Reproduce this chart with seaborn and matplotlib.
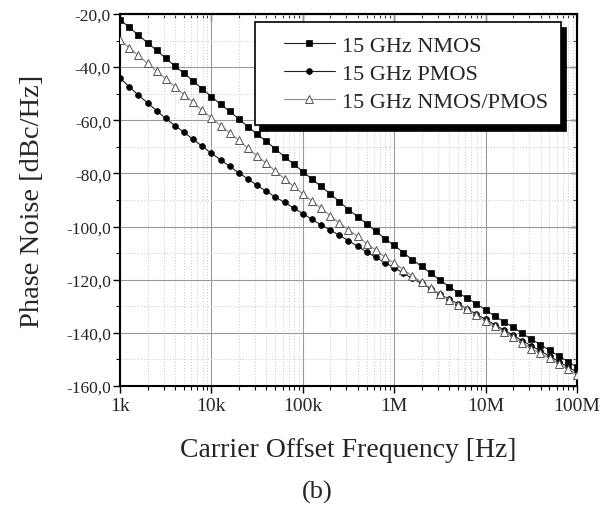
import numpy as np
import pandas as pd
import matplotlib
matplotlib.use("Agg")
import matplotlib.pyplot as plt
import seaborn as sns
from matplotlib.lines import Line2D
from matplotlib.legend_handler import HandlerLine2D
from matplotlib.ticker import FixedLocator, MultipleLocator, FuncFormatter, NullFormatter

# ---------------- data ----------------
freq_hz = [
    1.00e3, 1.26e3, 1.58e3, 2.00e3, 2.51e3, 3.16e3, 3.98e3, 5.01e3, 6.31e3, 7.94e3,
    1.00e4, 1.26e4, 1.58e4, 2.00e4, 2.51e4, 3.16e4, 3.98e4, 5.01e4, 6.31e4, 7.94e4,
    1.00e5, 1.26e5, 1.58e5, 2.00e5, 2.51e5, 3.16e5, 3.98e5, 5.01e5, 6.31e5, 7.94e5,
    1.00e6, 1.26e6, 1.58e6, 2.00e6, 2.51e6, 3.16e6, 3.98e6, 5.01e6, 6.31e6, 7.94e6,
    1.00e7, 1.26e7, 1.58e7, 2.00e7, 2.51e7, 3.16e7, 3.98e7, 5.01e7, 6.31e7, 7.94e7,
    1.00e8,
]
nmos = [
    -22.1, -25.0, -27.9, -30.8, -33.7, -36.6, -39.6, -42.3, -45.2, -48.2,
    -51.1, -54.0, -56.6, -59.5, -62.4, -65.2, -67.9, -70.8, -73.7, -76.5,
    -79.3, -82.1, -84.9, -87.7, -90.6, -93.6, -96.3, -99.0, -101.8, -104.6,
    -107.1, -109.8, -112.5, -115.0, -117.6, -120.1, -122.6, -124.9, -127.0, -129.1,
    -131.4, -133.7, -135.8, -137.9, -140.2, -142.4, -144.4, -146.6, -148.7, -150.8,
    -153.0,
]
pmos = [
    -44.2, -47.3, -50.5, -53.4, -56.4, -59.3, -62.0, -64.5, -67.2, -69.8,
    -72.4, -74.9, -77.3, -79.8, -82.1, -84.5, -86.7, -88.9, -90.9, -93.0,
    -95.1, -97.3, -99.3, -101.3, -103.3, -105.3, -107.4, -109.6, -111.6, -113.6,
    -115.5, -117.5, -119.5, -121.4, -123.4, -125.4, -127.3, -129.1, -131.0, -133.0,
    -134.9, -136.9, -138.9, -140.9, -142.9, -144.9, -146.8, -148.8, -150.8, -152.8,
    -154.8,
]
nmos_pmos = [
    -29.8, -32.7, -35.6, -38.6, -41.5, -44.5, -47.3, -50.4, -53.2, -56.3,
    -59.1, -62.0, -64.7, -67.5, -70.6, -73.4, -76.2, -79.1, -82.0, -84.9,
    -87.7, -90.4, -93.1, -95.9, -98.7, -101.2, -103.7, -106.4, -108.9, -111.5,
    -113.8, -116.2, -118.6, -120.9, -123.2, -125.4, -127.5, -129.4, -131.1, -133.4,
    -135.5, -137.4, -139.5, -141.7, -143.7, -145.9, -147.7, -149.6, -151.6, -153.7,
    -155.7,
]
series_labels = ["15 GHz NMOS", "15 GHz PMOS", "15 GHz NMOS/PMOS"]
x_ticks = [1e3, 1e4, 1e5, 1e6, 1e7, 1e8]
x_tick_labels = ["1k", "10k", "100k", "1M", "10M", "100M"]
y_ticks = [-20, -40, -60, -80, -100, -120, -140, -160]
x_label = "Carrier Offset Frequency [Hz]"
y_label = "Phase Noise [dBc/Hz]"
caption = "(b)"

# ---------------- style ----------------
sns.set_style("ticks")
plt.rcParams["font.family"] = ["Liberation Serif", "DejaVu Serif"]

fig = plt.figure(figsize=(6.15, 5.06), dpi=100)
ax = fig.add_axes([0.1951, 0.2352, 0.7431, 0.7352])

df = pd.DataFrame({"freq": freq_hz, "nmos": nmos, "pmos": pmos, "np": nmos_pmos})

sns.lineplot(data=df, x="freq", y="nmos", ax=ax, color="#222222", lw=0.8,
             marker="s", markersize=3.8, markerfacecolor="black",
             markeredgecolor="black", markeredgewidth=0.5, label=series_labels[0],
             zorder=3)
sns.lineplot(data=df, x="freq", y="pmos", ax=ax, color="#222222", lw=0.8,
             marker="o", markersize=4.2, markerfacecolor="black",
             markeredgecolor="black", markeredgewidth=0.5, label=series_labels[1],
             zorder=3)
sns.lineplot(data=df, x="freq", y="np", ax=ax, color="#888888", lw=0.8,
             marker="^", markersize=5.5, markerfacecolor="white",
             markeredgecolor="#555555", markeredgewidth=0.7, label=series_labels[2],
             zorder=4)

ax.set_xscale("log")
ax.set_xlim(1e3, 1e8)
ax.set_ylim(-160, -20)

ax.set_xticks(x_ticks)
ax.set_xticklabels(x_tick_labels)
minor_x = [m * d for d in [1e3, 1e4, 1e5, 1e6, 1e7] for m in range(2, 10)]
ax.xaxis.set_minor_locator(FixedLocator(minor_x))
ax.xaxis.set_minor_formatter(NullFormatter())

ax.yaxis.set_major_locator(FixedLocator(y_ticks))
ax.yaxis.set_minor_locator(MultipleLocator(10))
ax.yaxis.set_major_formatter(FuncFormatter(lambda v, p: f"{v:.1f}".replace(".", ",")))

ax.grid(which="major", color="#9a9a9a", lw=0.8, ls="-")
ax.grid(which="minor", color="#c8c8c8", lw=0.7, ls=(0, (1, 2)))
ax.set_axisbelow(True)

for s in ax.spines.values():
    s.set_linewidth(1.5)
    s.set_color("black")

ax.tick_params(axis="both", which="major", direction="out", length=5, width=1.0,
               color="black", pad=1.5)
ax.tick_params(axis="both", which="minor", direction="out", length=3, width=0.8,
               color="black")
ax.tick_params(axis="x", which="major", labelsize=14, pad=3)
ax.tick_params(axis="y", which="major", labelsize=12.5)

# inward ticks on top and right
secx = ax.secondary_xaxis("top")
secx.set_xticks(x_ticks)
secx.xaxis.set_minor_locator(FixedLocator(minor_x))
secx.tick_params(which="major", direction="in", length=5, width=1.0, labeltop=False)
secx.tick_params(which="minor", direction="in", length=3, width=0.8)
secx.xaxis.set_minor_formatter(NullFormatter())
secx.spines["top"].set_linewidth(1.5)

secy = ax.secondary_yaxis("right")
secy.set_yticks(y_ticks)
secy.yaxis.set_minor_locator(MultipleLocator(10))
secy.tick_params(which="major", direction="in", length=5, width=1.0, labelright=False)
secy.tick_params(which="minor", direction="in", length=3, width=0.8)
secy.spines["right"].set_linewidth(1.5)

ax.set_xlabel(x_label, fontsize=20)
ax.set_ylabel(y_label, fontsize=20.5)
ax.xaxis.set_label_coords(0.5, -0.138)
ax.yaxis.set_label_coords(-0.165, 0.5)

leg = ax.legend(loc="upper right", bbox_to_anchor=(0.965, 0.978), borderaxespad=0,
                fontsize=16, frameon=True, fancybox=False, numpoints=1,
                handlelength=3.0, handletextpad=0.3, labelspacing=0.33,
                borderpad=0.6,
                handler_map={Line2D: HandlerLine2D(xpad=0.7)},
                shadow={"color": "black", "alpha": 1.0, "ox": 3.5, "oy": -4})
leg.get_frame().set_edgecolor("black")
leg.get_frame().set_linewidth(1.2)
leg.get_frame().set_facecolor("white")
leg.get_frame().set_alpha(1.0)

fig.text(317 / 615, 1 - 492 / 506, caption, fontsize=19, ha="center", va="center")

fig.savefig("out.png", dpi=100)
